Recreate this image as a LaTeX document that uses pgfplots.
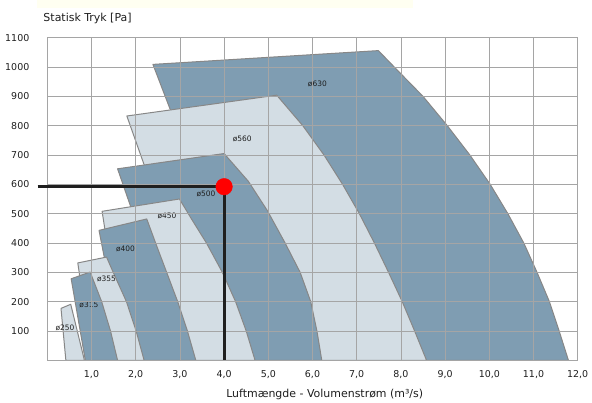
\documentclass[border=0pt]{standalone}
\usepackage{pgfplots}
\pgfplotsset{compat=1.18}
\usepackage{fontspec}
\setmainfont{DejaVu Sans}
\definecolor{darkfill}{RGB}{127,157,178}
\definecolor{lightfill}{RGB}{211,221,228}
\definecolor{edgegray}{RGB}{135,135,135}
\definecolor{gridgray}{RGB}{165,165,165}
\definecolor{cream}{RGB}{255,255,241}
\definecolor{txt}{RGB}{30,30,30}
\tikzset{lbl/.style={font=\fontsize{7.5}{8}\selectfont, text=txt, inner sep=0pt}}
\pgfplotsset{
  base/.style={
    at={(0,0)}, anchor=south west, scale only axis,
    width=530.4bp, height=322.6bp,
    xmin=0, xmax=12, ymin=0, ymax=1100, clip=false,
  },
  areaedge/.style={draw=edgegray, line width=1bp, line join=round},
}
\begin{document}
\begin{tikzpicture}
\path[use as bounding box] (-47.3bp,-42.7bp) rectangle (544.7bp,360.3bp);
\fill[cream] (-10.3bp,352.3bp) rectangle (365.4bp,360.3bp);
% ---------- fan curve areas ----------
\begin{axis}[base, hide axis]
% o630
\addplot[areaedge, fill=darkfill] coordinates {
 (2.39,1009) (7.49,1056) (7.85,1000) (8.50,900) (9.05,800) (9.56,700)
 (10.02,600) (10.42,500) (10.78,400) (11.08,300) (11.36,200) (11.58,100)
 (11.79,0) (8.40,0) (2.82,840)} -- cycle;
% o560
\addplot[areaedge, fill=lightfill] coordinates {
 (1.80,833) (5.19,904) (5.78,800) (6.26,700) (6.68,600) (7.06,500)
 (7.40,400) (7.72,300) (8.03,200) (8.31,100) (8.58,0) (6.00,0) (2.23,650)} -- cycle;
% o500
\addplot[areaedge, fill=darkfill] coordinates {
 (1.59,653) (4.00,705) (4.55,610) (4.98,510) (5.38,400) (5.72,300)
 (5.96,200) (6.10,100) (6.21,0) (4.55,0) (1.93,505)} -- cycle;
% o450
\addplot[areaedge, fill=lightfill] coordinates {
 (1.24,508) (2.99,550) (3.27,480) (3.60,400) (3.96,300) (4.26,200)
 (4.50,100) (4.70,0) (3.20,0) (1.32,430)} -- cycle;
% o400
\addplot[areaedge, fill=darkfill] coordinates {
 (1.17,443) (2.25,482) (2.45,400) (2.70,300) (2.95,200) (3.17,100)
 (3.36,0) (2.05,0) (1.31,335)} -- cycle;
% o355
\addplot[areaedge, fill=lightfill] coordinates {
 (0.69,332) (1.34,352) (1.50,297) (1.79,200) (2.01,100) (2.19,0)
 (1.45,0) (0.75,270)} -- cycle;
% o315
\addplot[areaedge, fill=darkfill] coordinates {
 (0.54,278) (0.97,301) (1.23,200) (1.43,100) (1.59,0) (0.86,0)} -- cycle;
% o250
\addplot[areaedge, fill=lightfill] coordinates {
 (0.31,177) (0.53,191) (0.84,0) (0.42,0)} -- cycle;
\node[lbl] at (axis cs:6.11,941) {ø630};
\node[lbl] at (axis cs:4.41,755) {ø560};
\node[lbl] at (axis cs:3.59,567) {ø500};
\node[lbl] at (axis cs:2.71,491) {ø450};
\node[lbl] at (axis cs:1.77,379) {ø400};
\node[lbl] at (axis cs:1.34,277) {ø355};
\node[lbl] at (axis cs:0.94,189) {ø315};
\node[lbl] at (axis cs:0.40,109) {ø250};
\end{axis}
% ---------- grid, ticks and operating point ----------
\begin{axis}[base,
  axis line style={gridgray, line width=0.8bp},
  grid=major, major grid style={gridgray, line width=0.8bp},
  xtick={1,2,...,12}, ytick={100,200,...,1100},
  major tick length=0pt,
  scaled ticks=false,
  /pgf/number format/assume math mode=true,
  tick label style={font=\fontsize{9.5}{11}\selectfont, text=txt, inner sep=0pt},
  xticklabel={\pgfmathprintnumber[fixed,fixed zerofill,precision=1,use comma,assume math mode=true]{\tick}},
  yticklabel={\pgfmathprintnumber[fixed,precision=0,1000 sep={},assume math mode=true]{\tick}},
  xticklabel style={anchor=north, yshift=-10.2bp},
  yticklabel style={anchor=east, xshift=-17.8bp},
]
\addplot[color=black!88, line width=2.8bp] coordinates {(-0.217,592) (4,592) (4,0)};
\addplot[only marks, mark=*, mark size=8.3bp, color=red, fill=red] coordinates {(4,592)};
\end{axis}
\node[anchor=base west, inner sep=0pt, text=txt, font=\fontsize{11}{13}\selectfont] at (-4bp,338.8bp) {Statisk Tryk [Pa]};
\node[anchor=base, inner sep=0pt, text=txt, font=\fontsize{11}{13}\selectfont] at (277.4bp,-37.2bp) {Luftmængde - Volumenstrøm (m³/s)};
\end{tikzpicture}
\end{document}
